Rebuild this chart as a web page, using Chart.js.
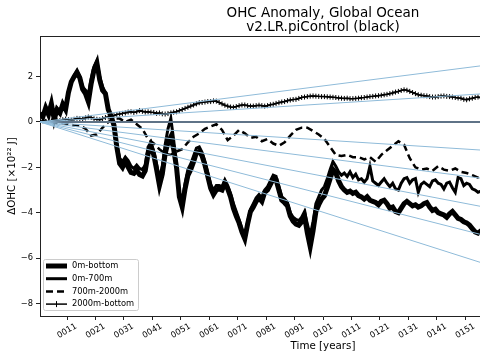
<!DOCTYPE html>
<html>
<head>
<meta charset="utf-8">
<script src="https://cdn.jsdelivr.net/npm/chart.js@4.4.1/dist/chart.umd.min.js"></script>
<style>
  html, body { margin: 0; padding: 0; background: #fff; overflow: hidden; }
  #wrap { width: 640px; height: 360px; }
</style>
</head>
<body>
<div id="wrap"><canvas id="chart" width="640" height="360"></canvas></div>
<script>
// OHC anomaly (10^22 J), first value at year 1.5
const startYear = 1.5;

// 0m-bottom, one value per year
const ohcTotal = [
  0.4, 0.23, 0.62, 0.33, 0.8, 0.12, 0.55, 0.4, 0.78, 0.55,
  1.3, 1.77, 2.0, 2.2, 1.95, 1.44, 1.25, 0.9, 1.7, 2.3,
  2.6, 1.85, 1.4, 1.25, 0.55, 0.25, -0.14, -1.1, -1.83, -2.0,
  -1.72, -1.99, -2.23, -2.27, -2.13, -2.32, -2.38, -2.15, -1.4, -1.06,
  -1.45, -2.1, -2.8, -2.3, -1.4, -0.9, -0.65, -1.2, -2.0, -3.3,
  -3.75, -2.95, -2.35, -2.1, -1.75, -1.35, -1.3, -1.5, -1.9, -2.4,
  -2.92, -3.2, -3.0, -2.95, -3.0, -2.7, -2.95, -3.3, -3.8, -4.15,
  -4.45, -4.85, -5.15, -4.5, -3.95, -3.75, -3.5, -3.35, -3.5, -3.1,
  -3.0, -2.75, -2.5, -2.55, -3.0, -3.45, -3.56, -3.7, -4.15, -4.38,
  -4.5, -4.55, -4.4, -4.15, -4.9, -5.5, -4.8, -3.95, -3.65, -3.4,
  -3.25, -2.9, -2.5, -2.1, -2.25, -2.6, -2.85, -3.0, -3.1, -3.05,
  -3.15, -3.1, -3.25, -3.3, -3.4, -3.3, -3.45, -3.5, -3.55, -3.65,
  -3.5, -3.45, -3.6, -3.8, -3.75, -3.95, -4.0, -3.8, -3.6, -3.5,
  -3.6, -3.7, -3.65, -3.75, -3.7, -3.6, -3.55, -3.75, -3.9, -3.85,
  -4.0, -4.05, -4.1, -4.2, -4.05, -3.95, -4.1, -4.25, -4.3, -4.4,
  -4.45, -4.55, -4.7, -4.85, -4.9, -4.8, -4.75
];

// 0m-700m, one value per year
const ohc0to700 = [
  0.4, 0.25, 0.65, 0.35, 0.85, 0.2, 0.6, 0.45, 0.8, 0.6,
  1.35, 1.8, 2.05, 2.25, 2.0, 1.55, 1.4, 1.2, 1.9, 2.45,
  2.7, 2.0, 1.55, 1.3, 0.6, 0.25, -0.2, -1.0, -1.6, -1.75,
  -1.55, -1.7, -1.95, -2.05, -1.9, -2.05, -2.1, -1.9, -1.1, -0.9,
  -1.3, -1.85, -2.5, -1.95, -1.0, -0.3, 0.15, -0.8, -1.9, -3.1,
  -3.5, -2.7, -2.1, -1.85, -1.5, -1.15, -1.1, -1.35, -1.75, -2.25,
  -2.75, -3.0, -2.8, -2.8, -2.85, -2.55, -2.8, -3.15, -3.6, -3.95,
  -4.3, -4.7, -5.05, -4.4, -3.85, -3.6, -3.35, -3.2, -3.35, -3.0,
  -2.85, -2.6, -2.35, -2.4, -2.85, -3.3, -3.4, -3.55, -4.0, -4.2,
  -4.3, -4.35, -4.2, -3.95, -4.5, -5.0, -4.4, -3.6, -3.3, -3.0,
  -2.85, -2.5, -2.1, -1.75, -1.95, -2.2, -2.35, -2.25, -2.4, -2.2,
  -2.45, -2.3, -2.55, -2.5, -2.65, -2.5, -1.95, -2.6, -2.7, -2.8,
  -2.65, -2.5, -2.7, -2.85, -2.7, -2.95, -3.0, -2.7, -2.5, -2.45,
  -2.7, -2.55, -2.5, -3.1, -2.75, -2.65, -2.75, -2.85, -2.6, -2.55,
  -2.7, -2.75, -2.95, -2.7, -2.65, -2.9, -3.1, -2.45, -2.5, -2.8,
  -2.7, -2.75, -2.95, -3.0, -3.1, -3.05, -3.1
];

// 700m-2000m, one value every 2 years
const ohc700to2000 = [
  0, 0.05, 0.05, -0.05, -0.05, -0.1, -0.15, -0.15, -0.3, -0.6,
  -0.55, -0.25, 0.0, 0.15, 0.15, 0.0, 0.1, -0.1, -0.3, -0.75,
  -0.95, -1.2, -1.4, -1.45, -1.3, -1.2, -0.9, -0.65, -0.5, -0.3,
  -0.2, -0.1, -0.35, -0.8, -0.6, -0.35, -0.5, -0.7, -0.65, -0.85,
  -0.75, -0.95, -1.05, -0.9, -0.6, -0.35, -0.25, -0.25, -0.4, -0.55,
  -0.75, -1.1, -1.45, -1.5, -1.45, -1.55, -1.55, -1.65, -1.55, -1.75,
  -1.45, -1.25, -1.05, -0.85, -1.0, -1.6, -2.0, -2.1, -2.05, -2.15,
  -1.95, -2.1, -2.15, -2.05, -2.2, -2.25, -2.35, -2.45, -2.45
];

// 2000m-bottom, one value per year
const ohc2000toBottom = [
  0.0, 0.05, 0.03, 0.02, 0.05, 0.1, 0.08, 0.06, 0.1, 0.13,
  0.1, 0.08, 0.12, 0.16, 0.15, 0.12, 0.18, 0.22, 0.2, 0.14,
  0.12, 0.1, 0.15, 0.2, 0.22, 0.24, 0.28, 0.33, 0.35, 0.38,
  0.4, 0.44, 0.45, 0.42, 0.45, 0.5, 0.47, 0.44, 0.45, 0.43,
  0.42, 0.38, 0.4, 0.36, 0.35, 0.37, 0.4, 0.43, 0.45, 0.5,
  0.55, 0.6, 0.65, 0.7, 0.75, 0.8, 0.85, 0.86, 0.88, 0.9,
  0.9, 0.93, 0.92, 0.86, 0.8, 0.74, 0.7, 0.66, 0.65, 0.68,
  0.72, 0.75, 0.75, 0.72, 0.7, 0.7, 0.72, 0.74, 0.72, 0.7,
  0.72, 0.76, 0.78, 0.82, 0.85, 0.88, 0.9, 0.94, 0.97, 0.99,
  1.0, 1.04, 1.08, 1.1, 1.12, 1.14, 1.15, 1.14, 1.13, 1.12,
  1.12, 1.11, 1.1, 1.09, 1.08, 1.06, 1.05, 1.04, 1.05, 1.03,
  1.03, 1.04, 1.05, 1.07, 1.08, 1.1, 1.12, 1.13, 1.15, 1.16,
  1.18, 1.2, 1.22, 1.25, 1.28, 1.32, 1.35, 1.39, 1.42, 1.4,
  1.35, 1.3, 1.25, 1.2, 1.18, 1.16, 1.15, 1.12, 1.1, 1.1,
  1.12, 1.14, 1.15, 1.13, 1.12, 1.1, 1.08, 1.06, 1.05, 1.0,
  0.98, 1.02, 1.05, 1.08, 1.1, 1.07, 1.05
];

// reference lines from the origin: value reached at the last year
const trendYears = [1.5, 200.5];
const trendEnds = [3.18, 1.59, -1.59, -3.18, -4.78, -6.37, -7.96];
const zeroLine = [0, 0];

const xTicks = [11, 21, 31, 41, 51, 61, 71, 81, 91, 101, 111, 121, 131, 141, 151, 161, 171, 181, 191];
const yTicks = [-8, -6, -4, -2, 0, 2];

const titleLines = ['OHC Anomaly, Global Ocean', 'v2.LR.piControl (black)'];

function toPoints(values, step) {
  return values.map((v, i) => ({ x: startYear + i * step, y: v }));
}

function yearLabel(v) {
  return String(Math.round(v)).padStart(4, '0');
}

Chart.defaults.font.family = '"DejaVu Sans", sans-serif';
Chart.defaults.color = '#000';

const datasets = [];
trendEnds.forEach(end => {
  datasets.push({
    data: [{ x: trendYears[0], y: 0 }, { x: trendYears[1], y: end }],
    borderColor: '#8fbbd9', borderWidth: 1, pointRadius: 0
  });
});
datasets.push({
  data: trendYears.map((yr, i) => ({ x: yr, y: zeroLine[i] })),
  borderColor: '#5f7387', borderWidth: 2, pointRadius: 0
});
datasets.push({
  label: '2000m-bottom', data: toPoints(ohc2000toBottom, 1),
  borderColor: '#000', borderWidth: 1.5,
  pointStyle: 'cross', pointRadius: 2.5, pointBorderWidth: 1, pointBorderColor: '#000'
});
datasets.push({
  label: '700m-2000m', data: toPoints(ohc700to2000, 2),
  borderColor: '#000', borderWidth: 2.5, borderDash: [7, 4], pointRadius: 0
});
datasets.push({
  label: '0m-700m', data: toPoints(ohc0to700, 1),
  borderColor: '#000', borderWidth: 3, pointRadius: 0
});
datasets.push({
  label: '0m-bottom', data: toPoints(ohcTotal, 1),
  borderColor: '#000', borderWidth: 5, pointRadius: 0
});

// top spine, rotated year labels, title and the legend box
const overlay = {
  id: 'overlay',
  afterDraw(chart) {
    const { ctx, chartArea: a, scales: { x } } = chart;
    ctx.save();
    ctx.strokeStyle = '#222';
    ctx.lineWidth = 1;
    ctx.beginPath();
    ctx.moveTo(a.left, a.top + 0.5);
    ctx.lineTo(a.right, a.top + 0.5);
    ctx.stroke();

    ctx.fillStyle = '#000';
    ctx.font = '8.3px "DejaVu Sans"';
    ctx.textAlign = 'center';
    ctx.textBaseline = 'middle';
    x.ticks.forEach(t => {
      ctx.save();
      ctx.translate(x.getPixelForValue(t.value), a.bottom + 15);
      ctx.rotate(-Math.PI / 6);
      ctx.fillText(yearLabel(t.value), 0, 0);
      ctx.restore();
    });

    ctx.font = '13.5px "DejaVu Sans"';
    ctx.textBaseline = 'alphabetic';
    const cx = (a.left + a.right) / 2;
    titleLines.forEach((s, i) => ctx.fillText(s, cx, 17 + i * 14));

    // legend
    const items = chart.data.datasets.filter(d => d.label).reverse();
    ctx.fillStyle = 'rgba(255,255,255,0.8)';
    ctx.strokeStyle = '#cccccc';
    ctx.lineWidth = 1;
    ctx.beginPath();
    ctx.roundRect(43.5, 259.5, 95, 51, 2);
    ctx.fill();
    ctx.stroke();
    ctx.font = '8.3px "DejaVu Sans"';
    ctx.textAlign = 'left';
    ctx.textBaseline = 'middle';
    items.forEach((d, i) => {
      const y = 266 + i * 12.7;
      ctx.strokeStyle = '#000';
      ctx.lineWidth = d.borderWidth;
      ctx.setLineDash(d.borderDash || []);
      ctx.beginPath();
      ctx.moveTo(46, y);
      ctx.lineTo(67, y);
      ctx.stroke();
      ctx.setLineDash([]);
      if (d.pointStyle === 'cross') {
        ctx.lineWidth = 1;
        ctx.beginPath();
        ctx.moveTo(56.5, y - 3);
        ctx.lineTo(56.5, y + 3);
        ctx.stroke();
      }
      ctx.fillStyle = '#000';
      ctx.fillText(d.label, 72, y);
    });
    ctx.restore();
  }
};

new Chart(document.getElementById('chart'), {
  type: 'line',
  data: { datasets: datasets },
  options: {
    responsive: false,
    animation: false,
    devicePixelRatio: 1,
    layout: { padding: { top: 36, right: 34, bottom: 0, left: 0 } },
    elements: { line: { tension: 0 } },
    plugins: { legend: { display: false }, tooltip: { enabled: false } },
    scales: {
      x: {
        type: 'linear', min: 1.5, max: 200.5,
        afterBuildTicks: s => { s.ticks = xTicks.map(v => ({ value: v })); },
        afterFit: s => { s.height = 44; },
        ticks: { display: false },
        grid: { drawOnChartArea: false, tickLength: 4, tickColor: '#222', tickWidth: 1 },
        border: { color: '#222', width: 1 },
        title: { display: true, text: 'Time [years]', font: { size: 10.3 }, color: '#000', padding: { top: 0, bottom: 7 } }
      },
      y: {
        type: 'linear', min: -8.557, max: 3.793,
        afterBuildTicks: s => { s.ticks = yTicks.map(v => ({ value: v })); },
        afterFit: s => { s.width = 40; },
        ticks: {
          callback: v => (v < 0 ? '\u2212' + Math.abs(v) : String(v)),
          font: { size: 8.3 }, color: '#000', padding: 3
        },
        grid: { drawOnChartArea: false, tickLength: 4, tickColor: '#222', tickWidth: 1 },
        border: { color: '#222', width: 1 },
        title: { display: true, text: 'ΔOHC [×10²² J]', font: { size: 10.3 }, color: '#000', padding: { top: 6, bottom: 0 } }
      }
    }
  },
  plugins: [overlay]
});
</script>
</body>
</html>
